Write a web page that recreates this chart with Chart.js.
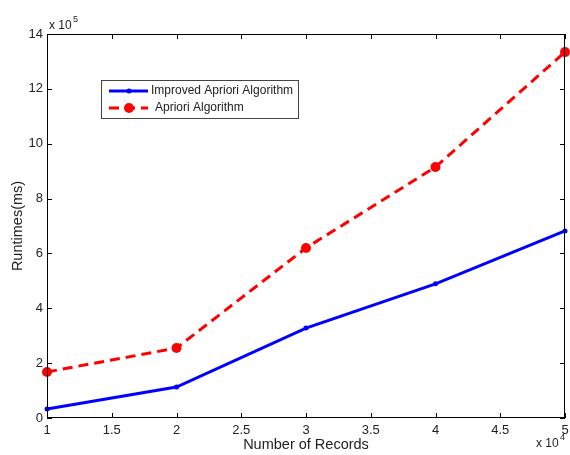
<!DOCTYPE html>
<html lang="en">
<head>
    <meta charset="UTF-8">
    <title>Runtimes</title>
    <script src="https://cdn.jsdelivr.net/npm/chart.js"></script>
    <style>
        html, body { margin: 0; padding: 0; background: #fff; }
        #wrap { width: 570px; height: 455px; }
    </style>
</head>
<body>
    <div id="wrap"><canvas id="grafico"></canvas></div>

    <script>
        // data (x in 10^4 records, y in 10^5 ms)
        const records = [1, 2, 3, 4, 5];
        const improvedTimes = [0.33, 1.13, 3.28, 4.89, 6.82];
        const aprioriTimes = [1.68, 2.55, 6.2, 9.15, 13.34];
        const seriesNames = ['Improved Apriori Algorithm', 'Apriori Algorithm'];

        const fonte = { family: 'Liberation Sans, Arial, sans-serif', size: 13 };
        const fonteTitulo = { family: 'Liberation Sans, Arial, sans-serif', size: 14.5 };
        const corTexto = '#222';

        // box, inward ticks, exponents and legend, MATLAB style
        const molduraPlugin = {
            id: 'moldura',
            afterDraw(chart) {
                const ctx = chart.ctx;
                const a = chart.chartArea;
                const x = chart.scales.x, y = chart.scales.y;
                ctx.save();
                ctx.strokeStyle = '#000';
                ctx.lineWidth = 1;
                ctx.strokeRect(a.left + 0.5, a.top + 0.5, a.right - a.left - 1, a.bottom - a.top - 1);
                ctx.beginPath();
                x.ticks.forEach(t => {
                    const px = Math.round(x.getPixelForValue(t.value)) + 0.5;
                    ctx.moveTo(px, a.bottom); ctx.lineTo(px, a.bottom - 5);
                    ctx.moveTo(px, a.top); ctx.lineTo(px, a.top + 5);
                });
                y.ticks.forEach(t => {
                    const py = Math.round(y.getPixelForValue(t.value)) + 0.5;
                    ctx.moveTo(a.left, py); ctx.lineTo(a.left + 5, py);
                    ctx.moveTo(a.right, py); ctx.lineTo(a.right - 5, py);
                });
                ctx.stroke();

                // exponents
                ctx.fillStyle = corTexto;
                ctx.textBaseline = 'alphabetic';
                ctx.textAlign = 'left';
                ctx.font = '12px Liberation Sans, Arial, sans-serif';
                ctx.fillText('x 10', 49, 29);
                ctx.fillText('x 10', 536, 447);
                ctx.font = '9px Liberation Sans, Arial, sans-serif';
                ctx.fillText('5', 73, 22);
                ctx.fillText('4', 560, 440);

                // legend box
                const lx = 101, ly = 80, lw = 197, lh = 38;
                ctx.fillStyle = '#fff';
                ctx.fillRect(lx, ly, lw, lh);
                ctx.strokeStyle = '#444';
                ctx.strokeRect(lx + 0.5, ly + 0.5, lw, lh);
                chart.data.datasets.forEach((ds, i) => {
                    const cy = ly + 11 + i * 17;
                    ctx.strokeStyle = ds.borderColor;
                    ctx.lineWidth = 3;
                    ctx.setLineDash(ds.borderDash || []);
                    ctx.beginPath();
                    ctx.moveTo(lx + 8, cy); ctx.lineTo(lx + 47, cy);
                    ctx.stroke();
                    ctx.setLineDash([]);
                    ctx.fillStyle = ds.pointBackgroundColor;
                    ctx.beginPath();
                    ctx.arc(lx + 28, cy, ds.pointRadius, 0, Math.PI * 2);
                    ctx.fill();
                    ctx.fillStyle = corTexto;
                    ctx.font = '12px Liberation Sans, Arial, sans-serif';
                    ctx.textBaseline = 'middle';
                    ctx.fillText(ds.label, lx + (i === 0 ? 50 : 54), cy);
                });
                ctx.restore();
            }
        };

        new Chart(document.getElementById('grafico'), {
            type: 'line',
            data: {
                datasets: [
                    {
                        label: seriesNames[0],
                        data: records.map((r, i) => ({ x: r, y: improvedTimes[i] })),
                        borderColor: '#0000ff',
                        pointBackgroundColor: '#0000ff',
                        pointBorderColor: '#0000ff',
                        borderWidth: 3,
                        pointRadius: 2.5,
                        pointBorderWidth: 0,
                        tension: 0
                    },
                    {
                        label: seriesNames[1],
                        data: records.map((r, i) => ({ x: r, y: aprioriTimes[i] })),
                        borderColor: '#ff0000',
                        pointBackgroundColor: '#ff0000',
                        pointBorderColor: '#ff0000',
                        borderWidth: 3,
                        borderDash: [10, 6],
                        pointRadius: 5,
                        pointBorderWidth: 0,
                        tension: 0
                    }
                ]
            },
            options: {
                responsive: true,
                maintainAspectRatio: false,
                animation: false,
                clip: false,
                layout: { padding: { top: 34, right: 3, left: 0, bottom: 0 } },
                plugins: { legend: { display: false }, tooltip: { enabled: false } },
                scales: {
                    x: {
                        type: 'linear',
                        min: 1, max: 5,
                        ticks: { stepSize: 0.5, padding: 5, color: corTexto, font: fonte, maxRotation: 0,
                                 callback: v => String(v) },
                        grid: { display: false, drawTicks: false },
                        border: { display: false },
                        title: { display: true, text: 'Number of Records', color: corTexto, font: fonteTitulo, padding: { top: 0, bottom: 1 } },
                        afterFit(s) { s.height = 37; s.paddingLeft = 0; s.paddingRight = 0; }
                    },
                    y: {
                        min: 0, max: 14,
                        ticks: { stepSize: 2, padding: 4, color: corTexto, font: fonte },
                        grid: { display: false, drawTicks: false },
                        border: { display: false },
                        title: { display: true, text: 'Runtimes(ms)', color: corTexto, font: fonteTitulo, padding: { top: 9, bottom: 0 } },
                        afterFit(s) { s.width = 47; s.paddingTop = 0; s.paddingBottom = 0; }
                    }
                }
            },
            plugins: [molduraPlugin]
        });
    </script>
</body>
</html>
